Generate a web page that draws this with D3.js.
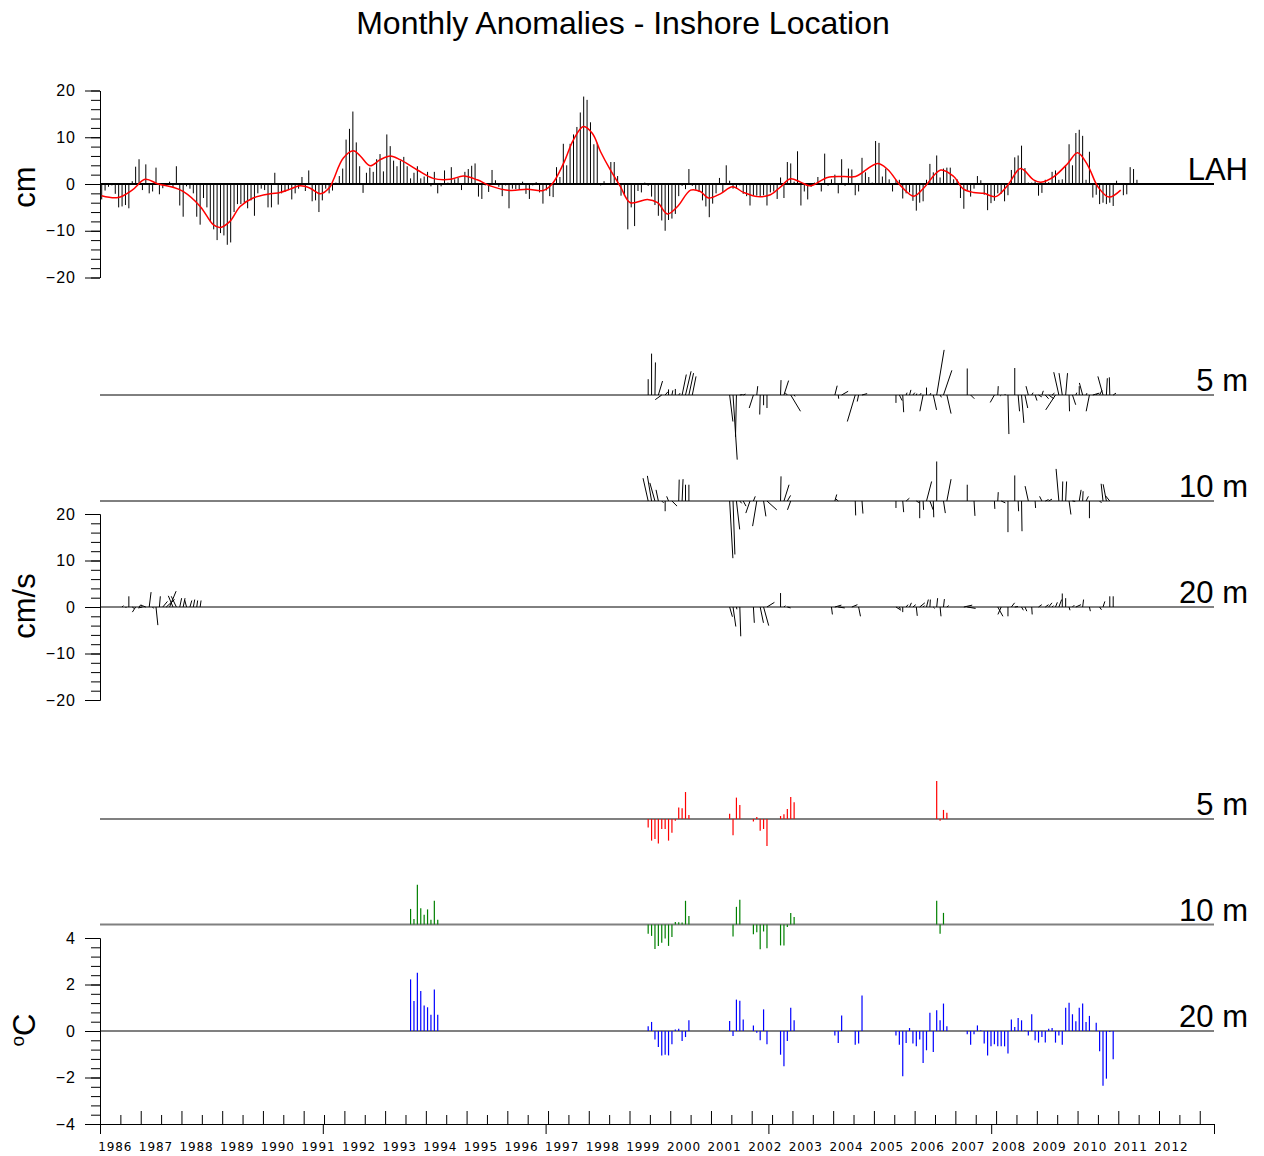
<!DOCTYPE html>
<html>
<head>
<meta charset="utf-8">
<script src="https://cdn.jsdelivr.net/npm/d3@7"></script>
<style>
  body { margin: 0; background: #fff; }
  svg { display: block; font-family: "Liberation Sans", Arial, Helvetica, sans-serif; }
</style>
</head>
<body>
<svg id="chart" width="1264" height="1156"></svg>
<script>
// ---------------------------------------------------------------
// Monthly sea level anomaly (cm), one value per month from Jan 1986
// ---------------------------------------------------------------
const seaLevelStart = "1986-01";
const seaLevelCm = [
  -3.3, -1.4, -0.6, -0.3, -2.1, -5.0, -4.8, -4.5, -5.2, 0.6, 3.7, 5.3,      // 1986
  -1.3, 4.2, -2.0, -1.6, 3.5, -2.2, -0.9, -0.3, 0.5, -0.7, 3.8, -4.6,       // 1987
  -7.0, -0.5, -1.0, -2.0, -7.0, -8.7, -3.0, -5.0, -8.0, -9.7, -12.0, -10.5, // 1988
  -11.0, -13.0, -12.5, -6.0, -4.3, -4.3, -4.0, -5.2, -3.5, -6.8, -2.0, -1.0,// 1989
  -1.3, -5.0, -5.0, 2.4, -4.4, -2.0, -1.7, -1.3, -3.3, -2.0, -1.0, 1.5,     // 1990
  -1.5, 2.9, -3.7, -3.5, -6.0, -3.5, -1.0, -2.0, -1.4, 0.3, 1.7, 3.3,       // 1991
  9.5, 11.8, 15.5, 8.9, 3.8, -1.9, 2.4, 3.5, 2.6, 5.3, 6.4, 2.7,            // 1992
  10.6, 8.1, 5.0, 3.8, 5.0, 5.8, 3.8, 1.2, 2.4, 3.8, 1.2, 1.6,              // 1993
  2.6, -0.5, 2.6, -2.0, -0.5, 2.9, 0.3, 3.6, 1.0, 1.3, -1.3, 2.6,           // 1994
  3.2, 3.9, 4.4, -2.7, -3.2, -0.3, -1.7, 3.0, 0.8, -0.6, -2.6, -0.3,        // 1995
  -5.2, -1.0, -1.1, -1.1, 0.5, -2.1, -3.2, -0.3, 0.4, -1.8, -4.2, -1.4,     // 1996
  -2.6, -2.8, 3.6, 1.5, 8.6, 4.0, 8.6, 10.6, 12.2, 15.3, 18.7, 18.0,        // 1997
  13.2, 8.5, 8.8, -0.3, 0.6, -0.2, 4.7, 4.7, 1.7, -2.5, -2.5, -9.7,         // 1998
  -5.0, -9.0, -1.5, -1.8, 0.3, -0.4, -2.7, -4.5, -6.8, -7.8, -10.0, -7.7,   // 1999
  -7.4, -6.4, -2.6, -0.4, -1.1, 3.2, -0.4, -1.2, -1.7, -3.5, -4.8, -7.1,    // 2000
  -4.2, -2.0, 1.3, -1.7, 4.0, 0.7, -1.0, -1.0, -0.3, -2.1, -2.6, -4.6,      // 2001
  -2.5, -2.5, -2.6, -2.4, -4.6, -1.8, -1.6, -3.2, 1.4, -3.0, 4.7, 4.4,      // 2002
  0.5, 7.0, -4.6, -1.6, -3.3, -0.6, 0.3, 1.5, -1.6, 6.5, -0.4, 1.0,         // 2003
  2.0, -2.0, 5.3, -0.4, 3.3, 3.1, -2.4, -1.6, 5.6, 2.5, 1.5, 0.3,           // 2004
  9.2, 8.8, 1.6, 3.3, 1.0, -1.6, 0.9, 0.9, -3.1, -2.0, -1.8, -3.6,          // 2005
  -5.7, -4.0, -3.7, 0.9, 4.3, 2.5, 6.1, 1.4, 3.3, 3.5, 3.5, 1.0,            // 2006
  1.0, -3.0, -5.3, -1.3, -2.7, -1.0, 1.7, 0.8, -2.3, -5.6, -4.1, -3.6,      // 2007
  -2.0, -2.1, -3.7, -2.4, 3.0, 5.7, 6.1, 8.2, 3.4, 0.3, 0.3, 0.6,           // 2008
  -2.5, -1.9, 0.9, 0.4, 2.6, 2.9, 0.9, 1.0, 3.9, 8.5, 4.0, 10.9,            // 2009
  11.6, 10.3, 0.9, 6.9, -2.9, -2.3, -4.3, -4.0, -4.3, -4.0, -4.7, 0.7,      // 2010
  null, -2.4, -2.2, 3.6, 3.2, 0.9                                           // 2011
];

// Low-pass filtered sea level (cm) at decimal years
const smoothYear = [1986.04, 1986.44, 1986.79, 1987.11, 1987.43, 1987.79, 1988.04, 1988.46, 1988.78, 1988.95,
  1989.19, 1989.44, 1989.76, 1990.18, 1990.42, 1990.67, 1990.91, 1991.16, 1991.41, 1991.65,
  1991.73, 1991.97, 1992.22, 1992.39, 1992.63, 1992.88, 1993.13, 1993.37, 1993.79, 1994.18,
  1994.60, 1994.92, 1995.26, 1995.58, 1996.07, 1996.49, 1996.88, 1997.11, 1997.38, 1997.62,
  1997.87, 1998.09, 1998.29, 1998.53, 1998.78, 1999.02, 1999.44, 1999.69, 1999.93, 2000.18,
  2000.50, 2000.74, 2000.94, 2001.23, 2001.53, 2001.80, 2002.14, 2002.46, 2002.71, 2002.95,
  2003.20, 2003.44, 2003.86, 2004.26, 2004.55, 2005.09, 2005.34, 2005.66, 2005.98, 2006.22,
  2006.64, 2006.96, 2007.20, 2007.45, 2007.70, 2007.99, 2008.29, 2008.60, 2008.92, 2009.10,
  2009.42, 2009.76, 2010.00, 2010.25, 2010.50, 2010.77, 2011.06];
const smoothCm = [-2.5, -2.9, -1.3, 1.0, 0.0, -0.7, -1.6, -4.8, -8.7, -9.3,
  -8.0, -4.8, -3.0, -2.1, -1.8, -1.1, -0.4, -0.9, -2.1, -0.6,
  0.9, 5.5, 7.1, 6.0, 3.9, 5.2, 6.0, 5.2, 3.0, 1.2,
  1.0, 1.7, 0.9, -0.4, -1.4, -1.1, -1.4, 0.1, 4.4, 9.4,
  12.3, 10.8, 6.9, 3.0, -0.6, -4.0, -3.3, -4.0, -6.4, -4.8,
  -1.3, -1.6, -3.0, -2.1, -0.6, -1.8, -2.7, -2.3, -0.6, 1.1,
  0.4, -0.4, 1.4, 1.6, 1.6, 4.4, 3.1, -0.4, -2.6, -0.9,
  3.0, 1.6, -1.1, -1.8, -2.0, -2.7, -0.2, 3.3, 0.9, 0.4,
  1.6, 4.4, 6.7, 4.0, -0.6, -2.8, -1.3];

// ---------------------------------------------------------------
// Monthly current anomalies [east, north] in cm/s, as runs of months
// ---------------------------------------------------------------
const current5m = [
  ["1999-06", [[0,3.4],[0,8.9],[0.1,7.0],[0.9,3.0],[-1.4,-1.0],[0.6,0.7],[0,1.2],[0.2,1.0],[0,1.3],[0.3,0.4],[0.9,4.4],[1.2,5.1],[1.0,4.7],[0.8,4.0]]],
  ["2001-06", [[0.7,-5.7],[0.9,-13.9],[-0.2,-9.0],[0.6,0.1],[0.5,0.2]]],
  ["2002-01", [[-0.9,-2.8],[0.2,1.9],[-0.1,-4.2],[0,-2.2],[0,-2.8]]],
  ["2002-09", [[0.1,3.2],[1.0,3.1],[-0.5,0.5],[2.1,-3.5],[0.2,-0.3]]],
  ["2004-01", [[0.5,2.0],[0.1,-0.8],[1.4,0.8]]],
  ["2004-07", [[-1.7,-5.7],[-0.3,-1.4],[1.1,0.3]]],
  ["2005-07", [[0,-1.7],[0.6,-1.2],[0.2,-3.7],[0.2,0.5],[0.3,1.1],[0.4,0.5],[0.1,0.3],[0.3,0.4],[-0.7,-3.5],[0,1.6],[0.2,0.4],[0.7,-3.2],[1.6,9.7],[0.3,-0.5],[1.8,5.3],[0.9,-4.0]]],
  ["2007-04", [[0,5.7],[0.8,-0.8]]],
  ["2007-12", [[-0.9,-1.6],[0.1,1.9],[-0.2,-0.2],[0.2,0.2],[0.2,-8.4]]],
  ["2008-06", [[0,5.8],[0.3,-3.5],[0.5,-6.0],[0.6,-2.8],[-0.5,1.9],[0.3,0.5],[0.4,-1.2],[0.7,-0.4],[0.3,0.9],[0.7,-0.8],
               [1.1,-0.8],[0.5,0.4],[-2.1,-3.2],[-1.1,4.9],[-0.7,4.7],[0.4,4.7],[0.1,-3.5],[0.7,-2.1],[0.2,0.5],[0,1.9],
               [-0.7,2.6],[0.2,0.4],[-0.7,-3.5],[1.4,0.4],[0.3,0.3],[0.5,1.0],[-1.1,4.0],[0.2,3.6],[-0.1,3.8],[0.6,0.4]]]
];
const current10m = [
  ["1999-06", [[-1.1,4.9],[-0.9,5.4],[-1.1,3.9],[-0.5,2.4],[0.4,-0.4],[0,-2.2],[-0.4,1.0],[1.1,-1.1]]],
  ["2000-03", [[0.1,4.6],[0.2,4.7],[0,3.5],[0,3.5]]],
  ["2001-06", [[0.7,-12.3],[0.4,-11.5],[0.7,-6.1],[0.4,-0.5],[0.6,-1.1]]],
  ["2001-12", [[-0.9,-2.6],[0.4,1.0],[-0.9,-5.4]]],
  ["2002-04", [[0.5,-3.3],[2.1,-1.9]]],
  ["2002-09", [[0.1,5.3],[1.1,3.5],[0.7,1.2],[-0.7,-1.9]]],
  ["2004-01", [[0.4,1.4],[-0.7,0.6]]],
  ["2004-07", [[0.1,-3.1]]],
  ["2004-09", [[0.2,-2.7]]],
  ["2005-07", [[0,-1.5]]],
  ["2005-09", [[0.2,-2.4],[0.7,0.6]]],
  ["2006-01", [[0.7,-0.4],[0,-3.7],[0.1,-1.9],[1.1,4.2],[0.7,-1.9],[0.1,-3.5],[0,8.5]]],
  ["2006-09", [[0.4,-2.6],[0.9,4.7]]],
  ["2007-04", [[0,3.5]]],
  ["2007-06", [[0.2,-3.2]]],
  ["2007-12", [[0.1,-1.7],[0.1,1.9],[0.9,-0.4]]],
  ["2008-04", [[0,-6.7]]],
  ["2008-06", [[0,5.5],[0.1,-2.2],[0.1,-6.5]]],
  ["2008-10", [[-0.7,3.2]]],
  ["2008-12", [[0.1,-1.5]]],
  ["2009-02", [[-0.5,1.0],[0.7,0.3],[0.7,0.4]]],
  ["2009-07", [[-0.6,6.9],[0.1,4.2],[0.2,4.2],[0.4,-2.9],[0.6,-0.1]]],
  ["2010-01", [[0.4,2.4],[0.1,2.1],[0.5,1.0],[0,-3.7]]],
  ["2010-07", [[0.4,-0.4],[-0.4,3.7],[-0.7,3.6],[-0.9,1.1]]]
];
const current20m = [
  ["1986-07", [[0.3,0.3],[0.2,-0.2],[0,2.3],[0.4,-0.3],[-0.7,-1.1],[0.4,0.5],[-0.9,-0.2],[-1.1,0.4],[0.4,3.2],[0.2,-0.3],
               [0.4,-3.9],[0.2,2.3],[1.0,1.2],[1.8,1.6],[1.4,3.4],[-1.0,2.4],[-1.1,2.3],[0.4,1.9],[0.4,1.9],[-0.4,1.5],
               [0.4,1.4],[0.3,1.6],[0.2,1.4],[0.2,1.4]]],
  ["2001-06", [[0.6,-2.1],[0.6,-4.2],[0.1,-0.5],[0.2,-6.3]]],
  ["2002-01", [[0.2,-3.4]]],
  ["2002-03", [[0.7,-3.4],[1.1,-4.0],[1.6,1.0]]],
  ["2002-09", [[0,3.0],[0.3,0.3],[0.7,-0.2]]],
  ["2003-12", [[0.2,-1.6],[1.4,0.4],[1.4,-0.2]]],
  ["2004-06", [[1.2,0.5]]],
  ["2004-08", [[0.4,-2.0]]],
  ["2005-07", [[1.1,-0.7],[0.2,-0.4],[0,-1.1],[0.4,0.5],[0.4,0.9],[0.6,0.5],[0.2,-1.9],[1.1,0.9],[0.3,0.3],[0.4,1.6],
               [0.1,1.6],[0.3,-0.3],[0.2,1.9],[0.2,-2.0],[0.2,1.7],[0.4,0.3]]],
  ["2007-03", [[1.8,0.4],[1.8,-0.3]]],
  ["2008-01", [[1.1,-2.0],[-0.7,-1.6]]],
  ["2008-04", [[0,-2.0],[0.7,0.9],[0.7,0.1]]],
  ["2008-08", [[0.4,-0.7],[0.4,-0.9]]],
  ["2008-11", [[0.1,-1.6]]],
  ["2009-01", [[0.7,0.5]]],
  ["2009-03", [[0.7,0.5],[0.7,0.9],[0.3,0.3],[0.4,1.0],[0.6,1.6],[0,2.9],[0,1.9],[0.2,-0.7],[0.4,0.4],[1.1,0.5]]],
  ["2010-02", [[0.2,1.6]]],
  ["2010-04", [[0.2,-0.9]]],
  ["2010-07", [[0.4,-0.6],[0.4,1.2]]],
  ["2010-10", [[0,2.3],[0,2.3]]]
];

// ---------------------------------------------------------------
// Monthly temperature anomalies (deg C), as runs of months
// ---------------------------------------------------------------
const temp5m = [
  ["1999-06", [-0.37, -0.93, -0.86, -1.05, -0.43, -0.43, -0.93, -0.59, -0.07, 0.50, 0.46, 1.16, 0.17]],
  ["2001-06", [0.23, -0.70, 0.92, 0.60]],
  ["2002-01", [-0.11, 0.09, -0.50, -0.43, -1.16]],
  ["2002-09", [0.13, 0.20, 0.43, 0.95, 0.72]],
  ["2006-07", [1.63, -0.07, 0.39, 0.27]]
];
const temp10m = [
  ["1993-08", [0.67, 0.24, 1.71, 0.70, 0.42, 0.65, 0.20, 1.02, 0.20]],
  ["1999-06", [-0.40, -0.49, -1.05, -0.92, -0.79, -0.60, -0.92, -0.54, 0.11, 0.10, 0.09, 1.02, 0.37]],
  ["2001-07", [-0.52, 0.76, 1.06]],
  ["2002-01", [-0.42, -0.33, -1.06, -0.30, -1.02]],
  ["2002-09", [-0.90, -0.90, -0.11, 0.49, 0.32]],
  ["2006-07", [1.02, -0.40, 0.50]]
];
const temp20m = [
  ["1993-08", [2.22, 1.29, 2.51, 1.72, 1.10, 1.02, 0.70, 1.79, 0.70]],
  ["1999-06", [0.20, 0.39, -0.37, -0.69, -1.05, -1.02, -1.05, -0.57, 0.06, 0.10, -0.43, -0.26, 0.46]],
  ["2001-06", [0.43, -0.22, 1.35, 1.30, 0.49]],
  ["2002-01", [0.24, -0.07, -0.40, 0.93, -0.57]],
  ["2002-09", [-1.02, -1.52, -0.43, 1.00, 0.46]],
  ["2004-01", [-0.19, -0.52, 0.67]],
  ["2004-07", [-0.59, -0.54, 1.53]],
  ["2005-07", [-0.19, -0.59, -1.95, -0.52, 0.13, -0.54, -0.66, -0.37, -1.38, -0.83, 0.79, -0.90, 0.89, 0.46, 1.18, 0.20]],
  ["2007-04", [-0.14, -0.59, -0.14, 0.24, 0.03, -0.54, -1.05, -0.66, -0.57, -0.66, -0.66, -0.66, -0.97, 0.49, 0.17,
               0.56, 0.46, 0.03, -0.19, 0.72, -0.40, -0.50, -0.26, -0.49, 0.10, 0.13, -0.50, -0.19, -0.59, 1.00,
               1.22, 0.72, 0.42, 1.00, 1.18, 0.39, 0.65]],
  ["2010-06", [0.36, -0.87, -2.36, -2.05, -0.04, -1.22]]
];

// Axis text
const yearLabels = ["1986","1987","1988","1989","1990","1991","1992","1993","1994","1995","1996","1997","1998",
  "1999","2000","2001","2002","2003","2004","2005","2006","2007","2008","2009","2010","2011","2012"];
const titleText = "Monthly Anomalies - Inshore Location";

// ---------------------------------------------------------------
// Helpers
// ---------------------------------------------------------------
const monthIndex = s => { const [y, m] = s.split("-").map(Number); return (y - 1986) * 12 + (m - 1); };
const monthTime = i => 1986 + (i + 0.5) / 12;
const flatten = runs => runs.flatMap(([start, vals]) => vals.map((v, k) => ({ t: monthTime(monthIndex(start) + k), v })));

const svg = d3.select("#chart");
const left = 100, right = 1214;
const x = d3.scaleLinear().domain([1986, 2013.35]).range([left, right]);
const labelFont = '"Liberation Sans", Arial, Helvetica, sans-serif';
const yearFont = '"DejaVu Sans", Verdana, sans-serif';

// title
svg.append("text").attr("x", 623).attr("y", 34).attr("text-anchor", "middle")
  .attr("font-size", 32).attr("font-family", labelFont).text(titleText);

function leftAxis(scale, major, minor, fmt) {
  const g = svg.append("g").attr("transform", `translate(${left},0)`);
  g.append("g").call(d3.axisLeft(scale).tickValues(minor).tickSize(9).tickFormat("").tickSizeOuter(0));
  g.append("g").call(d3.axisLeft(scale).tickValues(major).tickSize(15).tickPadding(9).tickSizeOuter(0).tickFormat(fmt));
  g.selectAll("text").attr("font-family", labelFont).attr("font-size", 16).attr("letter-spacing", 1).attr("fill", "#000");
  g.selectAll("line,path").attr("stroke", "#000");
}

function axisTitle(txt, cy, sup) {
  const t = svg.append("text").attr("transform", `translate(35,${cy}) rotate(-90)`)
    .attr("text-anchor", "middle").attr("font-size", 31).attr("font-family", labelFont);
  if (sup) {
    t.append("tspan").attr("font-size", 19).attr("dy", -11).text(sup);
    t.append("tspan").attr("dy", 11).text(txt);
  } else t.text(txt);
}

function rightLabel(txt, baseY) {
  svg.append("text").attr("x", 1248).attr("y", baseY - 4).attr("text-anchor", "end")
    .attr("font-size", 31).attr("font-family", labelFont).text(txt);
}

// ---------------------------------------------------------------
// Panel 1: sea level
// ---------------------------------------------------------------
const ySea = d3.scaleLinear().domain([-20, 20]).range([277.5, 90.5]);
leftAxis(ySea, [-20, -10, 0, 10, 20], d3.range(-20, 20.01, 2), d3.format("d"));
axisTitle("cm", 187);

const seaData = seaLevelCm.map((v, k) => ({ t: monthTime(monthIndex(seaLevelStart) + k), v })).filter(d => d.v !== null);
svg.append("g").selectAll("line").data(seaData).join("line")
  .attr("x1", d => x(d.t)).attr("x2", d => x(d.t))
  .attr("y1", ySea(0)).attr("y2", d => ySea(d.v))
  .attr("stroke", "#000").attr("stroke-width", 1);

svg.append("line").attr("x1", left).attr("x2", right).attr("y1", ySea(0)).attr("y2", ySea(0))
  .attr("stroke", "#000").attr("stroke-width", 2);

svg.append("path")
  .datum(smoothYear.map((t, k) => [t, smoothCm[k]]))
  .attr("d", d3.line().x(d => x(d[0])).y(d => ySea(d[1])).curve(d3.curveCatmullRom.alpha(0.5)))
  .attr("fill", "none").attr("stroke", "#ff0000").attr("stroke-width", 1.5);
rightLabel("LAH", ySea(0));

// ---------------------------------------------------------------
// Panel 2: current sticks at three depths
// ---------------------------------------------------------------
const currentDepths = [
  { runs: current5m, base: 395, label: "5 m" },
  { runs: current10m, base: 501, label: "10 m" },
  { runs: current20m, base: 607, label: "20 m" }
];
currentDepths.forEach(dep => {
  const y = d3.scaleLinear().domain([-20, 20]).range([dep.base + 93, dep.base - 93]);
  const len = u => y(0) - y(u);
  svg.append("line").attr("x1", left).attr("x2", right).attr("y1", y(0)).attr("y2", y(0))
    .attr("stroke", "#000").attr("stroke-width", 1);
  const sticks = dep.runs.flatMap(([start, vals]) =>
    vals.map((uv, k) => ({ t: monthTime(monthIndex(start) + k), u: uv[0], v: uv[1] })));
  svg.append("g").selectAll("line").data(sticks).join("line")
    .attr("x1", d => x(d.t)).attr("y1", y(0))
    .attr("x2", d => x(d.t) + len(d.u)).attr("y2", d => y(d.v))
    .attr("stroke", "#000").attr("stroke-width", 1);
  rightLabel(dep.label, y(0));
  if (dep.label === "20 m") {
    leftAxis(y, [-20, -10, 0, 10, 20], d3.range(-20, 20.01, 2), d3.format("d"));
  }
});
axisTitle("cm/s", 606);

// ---------------------------------------------------------------
// Panel 3: temperature anomalies at three depths
// ---------------------------------------------------------------
const tempDepths = [
  { runs: temp5m, base: 819, color: "#ff0000", label: "5 m" },
  { runs: temp10m, base: 924.5, color: "#008000", label: "10 m" },
  { runs: temp20m, base: 1031, color: "#0000ff", label: "20 m" }
];
tempDepths.forEach(dep => {
  const y = d3.scaleLinear().domain([-4, 4]).range([dep.base + 93, dep.base - 93]);
  svg.append("line").attr("x1", left).attr("x2", right).attr("y1", y(0)).attr("y2", y(0))
    .attr("stroke", "#808080").attr("stroke-width", 2);
  svg.append("g").selectAll("line").data(flatten(dep.runs)).join("line")
    .attr("x1", d => x(d.t)).attr("x2", d => x(d.t))
    .attr("y1", y(0)).attr("y2", d => y(d.v))
    .attr("stroke", dep.color).attr("stroke-width", 1.2);
  rightLabel(dep.label, y(0));
  if (dep.label === "20 m") {
    leftAxis(y, [-4, -2, 0, 2, 4], d3.range(-4, 4.01, 0.4), d3.format("d"));
  }
});
axisTitle("C", 1030, "o");

// ---------------------------------------------------------------
// Time axis along the bottom
// ---------------------------------------------------------------
const axisY = 1124;
const gx = svg.append("g").attr("transform", `translate(0,${axisY})`);
gx.append("g").call(d3.axisTop(x).tickValues(d3.range(1986.5, 2013, 1)).tickSize(9).tickFormat("").tickSizeOuter(0));
gx.append("g").call(d3.axisTop(x).tickValues(d3.range(1986, 2014, 1)).tickSize(13).tickFormat("").tickSizeOuter(0));
const frac = d3.scaleLinear().domain([0, 5]).range([left, right]);
gx.append("g").call(d3.axisBottom(frac).ticks(5).tickSize(10).tickFormat("").tickSizeOuter(0));
gx.selectAll("line,path").attr("stroke", "#000");

const yearPos = d3.scalePoint().domain(yearLabels).range([115.3, 1171.4]);
svg.append("g").selectAll("text").data(yearLabels).join("text")
  .attr("x", d => yearPos(d)).attr("y", 1151).attr("text-anchor", "middle")
  .attr("font-family", yearFont).attr("font-size", 12).attr("letter-spacing", 0.9)
  .text(d => d);
</script>
</body>
</html>
